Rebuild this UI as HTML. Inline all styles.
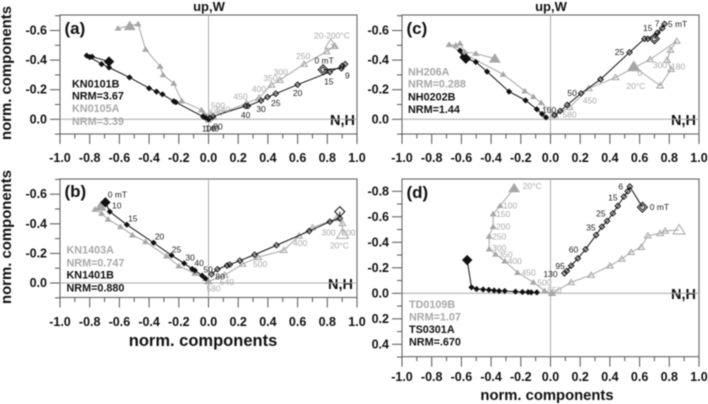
<!DOCTYPE html>
<html>
<head>
<meta charset="utf-8">
<style>
html,body{margin:0;padding:0;background:#fff;}
svg{display:block;font-family:"Liberation Sans",sans-serif;filter:blur(0.4px);}
text{font-family:"Liberation Sans",sans-serif;}
</style>
</head>
<body>
<svg id="chart" width="708" height="404" viewBox="0 0 708 404" xmlns="http://www.w3.org/2000/svg">
  <rect width="708" height="404" fill="#fff"/>
  <g font-weight="bold" fill="#111">
    <text transform="translate(11,73) rotate(-90)" text-anchor="middle" font-size="14.9">norm. components</text>
    <text transform="translate(11,237) rotate(-90)" text-anchor="middle" font-size="14.9">norm. components</text>
    <text x="203" y="346" text-anchor="middle" font-size="16.5">norm. components</text>
    <text x="547" y="400" text-anchor="middle" font-size="14.8">norm. components</text>
    <text x="209" y="11" text-anchor="middle" font-size="13">up,W</text>
    <text x="551" y="11" text-anchor="middle" font-size="13">up,W</text>
    <text x="355" y="125" text-anchor="end" font-size="14.5">N,H</text>
    <text x="353" y="289" text-anchor="end" font-size="14.5">N,H</text>
    <text x="696" y="125" text-anchor="end" font-size="14.5">N,H</text>
    <text x="696" y="299" text-anchor="end" font-size="14.5">N,H</text>
    <text x="64.5" y="34" font-size="17">(a)</text>
    <text x="64.5" y="197" font-size="17">(b)</text>
    <text x="406.5" y="34" font-size="17">(c)</text>
    <text x="406.5" y="198" font-size="17">(d)</text>
  </g>
  <g font-weight="bold" font-size="10.8" dominant-baseline="central">
    <text x="72" y="84.5" fill="#111">KN0101B</text>
    <text x="72" y="96.5" fill="#111">NRM=3.67</text>
    <text x="72" y="109" fill="#a8a8a8">KN0105A</text>
    <text x="72" y="122" fill="#a8a8a8">NRM=3.39</text>
    <text x="66.5" y="250.7" fill="#a8a8a8">KN1403A</text>
    <text x="66.5" y="263.3" fill="#a8a8a8">NRM=0.747</text>
    <text x="66.5" y="275.5" fill="#111">KN1401B</text>
    <text x="66.5" y="288.3" fill="#111">NRM=0.880</text>
    <text x="408" y="72.7" fill="#a8a8a8">NH206A</text>
    <text x="408" y="84.7" fill="#a8a8a8">NRM=0.288</text>
    <text x="408" y="97.3" fill="#111">NH0202B</text>
    <text x="408" y="110" fill="#111">NRM=1.44</text>
    <text x="409" y="305" fill="#a8a8a8">TD0109B</text>
    <text x="409" y="317.7" fill="#a8a8a8">NRM=1.07</text>
    <text x="409" y="330" fill="#111">TS0301A</text>
    <text x="409" y="342.7" fill="#111">NRM=.670</text>
  </g>
</svg>
<script>
// Axis tick values and labels
const xMajorTicks = [-1.0,-0.8,-0.6,-0.4,-0.2,0.0,0.2,0.4,0.6,0.8,1.0];
const xMinorTicks = [-0.9,-0.7,-0.5,-0.3,-0.1,0.1,0.3,0.5,0.7,0.9];
const yMajorTicksShort = [-0.6,-0.4,-0.2,0.0];
const yMinorTicksShort = [-0.7,-0.5,-0.3,-0.1,0.1];
const yMajorTicksTall = [-0.8,-0.6,-0.4,-0.2,0.0,0.2,0.4];
const yMinorTicksTall = [-0.7,-0.5,-0.3,-0.1,0.1,0.3,0.5];

// Panel (a)
const aBlackSolidX = [-0.67,-0.784,-0.82,-0.80,-0.72,-0.67,-0.532,-0.40,-0.35,-0.31,-0.234,-0.22,-0.036,-0.02,0];
const aBlackSolidY = [-0.39,-0.423,-0.43,-0.42,-0.373,-0.35,-0.283,-0.21,-0.187,-0.169,-0.122,-0.115,-0.018,-0.01,0];
const aBlackOpenX = [0.772,0.895,0.92,0.90,0.817,0.60,0.453,0.397,0.354,0.265,0.25,0.03,0.01];
const aBlackOpenY = [-0.335,-0.344,-0.373,-0.36,-0.32,-0.234,-0.173,-0.15,-0.126,-0.09,-0.09,-0.02,-0.01];
const aGraySolidX = [-0.53,-0.609,-0.474,-0.424,-0.326,-0.306,-0.234,-0.18,-0.047,-0.03,-0.01,0.01,0];
const aGraySolidY = [-0.63,-0.615,-0.644,-0.473,-0.358,-0.30,-0.243,-0.124,-0.063,-0.04,-0.02,-0.01,0.005];
const aGrayOpenX = [0.824,0.85,0.795,0.644,0.48,0.424,0.34,0.256,0.03,0.02,0.01];
const aGrayOpenY = [-0.507,-0.495,-0.457,-0.373,-0.265,-0.232,-0.144,-0.108,-0.02,-0.03,-0.01];

// Panel (b)
const bBlackSolidX = [-0.694,-0.665,-0.55,-0.37,-0.249,-0.164,-0.11,-0.092,-0.043,-0.02];
const bBlackSolidY = [-0.545,-0.482,-0.394,-0.272,-0.187,-0.133,-0.095,-0.085,-0.05,-0.03];
const bBlackOpenX = [0.884,0.884,0.817,0.678,0.458,0.31,0.211,0.143,0.125,0.06,0.02];
const bBlackOpenY = [-0.482,-0.437,-0.414,-0.351,-0.255,-0.191,-0.151,-0.124,-0.118,-0.093,-0.059];
const bGraySolidX = [-0.727,-0.765,-0.72,-0.676,-0.593,-0.512,-0.424,-0.283,-0.2,-0.092,-0.02,0];
const bGraySolidY = [-0.516,-0.498,-0.47,-0.43,-0.38,-0.324,-0.279,-0.182,-0.115,-0.065,-0.03,-0.013];
const bGrayOpenX = [0.902,0.902,0.862,0.70,0.61,0.507,0.334,0.229,0.11,0.0];
const bGrayOpenY = [-0.329,-0.403,-0.437,-0.374,-0.318,-0.221,-0.174,-0.128,-0.054,-0.01];

// Panel (c)
const cBlackSolidX = [-0.57,-0.609,-0.593,-0.503,-0.427,-0.279,-0.168,-0.092,-0.057,-0.03];
const cBlackSolidY = [-0.41,-0.464,-0.42,-0.387,-0.322,-0.187,-0.128,-0.068,-0.036,-0.013];
const cBlackOpenX = [0.70,0.768,0.752,0.72,0.655,0.633,0.532,0.337,0.206,0.112,0.065,0.027];
const cBlackOpenY = [-0.544,-0.644,-0.615,-0.585,-0.544,-0.544,-0.452,-0.27,-0.175,-0.097,-0.056,-0.029];
const cGraySolidX = [-0.375,-0.503,-0.577,-0.609,-0.638,-0.683,-0.577,-0.319,-0.173,-0.115,-0.063,0.027];
const cGraySolidY = [-0.41,-0.445,-0.455,-0.513,-0.50,-0.505,-0.44,-0.304,-0.191,-0.153,-0.112,-0.029];
const cGrayOpenX = [0.561,0.738,0.812,0.785,0.808,0.85,0.671,0.438,0.258,0.128,0.027];
const cGrayOpenY = [-0.355,-0.227,-0.338,-0.40,-0.468,-0.529,-0.405,-0.283,-0.209,-0.081,-0.029];

// Panel (d)
const dBlackSolidX = [-0.561,-0.532,-0.498,-0.454,-0.415,-0.38,-0.346,-0.308,-0.236,-0.189,-0.151,-0.13,-0.092];
const dBlackSolidY = [-0.261,-0.047,-0.034,-0.03,-0.027,-0.022,-0.018,-0.018,-0.013,-0.01,-0.009,-0.007,-0.007];
const dBlackOpenX = [0.619,0.534,0.52,0.494,0.453,0.42,0.381,0.346,0.307,0.236,0.184,0.139,0.11,0.094];
const dBlackOpenY = [-0.675,-0.837,-0.80,-0.758,-0.685,-0.627,-0.567,-0.522,-0.457,-0.345,-0.274,-0.216,-0.175,-0.157];
const dGraySolidX = [-0.245,-0.339,-0.386,-0.386,-0.413,-0.413,-0.37,-0.308,-0.222,-0.115,-0.04,0.01];
const dGraySolidY = [-0.824,-0.687,-0.622,-0.522,-0.447,-0.347,-0.306,-0.253,-0.162,-0.086,-0.02,0];
const dGrayOpenX = [0.866,0.772,0.738,0.655,0.61,0.543,0.48,0.40,0.273,0.139,0.01];
const dGrayOpenY = [-0.497,-0.489,-0.47,-0.452,-0.361,-0.322,-0.269,-0.216,-0.143,-0.086,0];

// Printed step labels for each series
const aBlackOpenLabels = ['0 mT','9','15','20','25','30','40','140','100','80'];
const aBlackOpenLabelPoints = [0,1,4,5,6,8,10,11,11,11];
const aGrayOpenLabels = ['20-200°C','250','300','350','400','450','500','540','580'];
const aGrayOpenLabelPoints = [0,3,4,5,6,7,8,8,8];
const bBlackSolidLabels = ['0 mT','10','15','20','25','30','40','50','80'];
const bBlackSolidLabelPoints = [0,1,2,3,4,5,6,8,8];
const bGrayOpenLabels = ['20°C','300','200','400','500','540','580'];
const bGrayOpenLabelPoints = [0,1,1,4,6,8,9];
const cBlackOpenLabels = ['5 mT','7','15','25','50','100'];
const cBlackOpenLabelPoints = [1,2,4,6,8,10];
const cGrayOpenLabels = ['0','20°C','300','180','450','580'];
const cGrayOpenLabelPoints = [0,0,3,2,8,9];
const dBlackOpenLabels = ['0 mT','6','15','25','35','60','95','130'];
const dBlackOpenLabelPoints = [0,1,3,5,7,9,11,13];
const dGraySolidLabels = ['20°C','100','150','200','250','300','350','400','450','500','550'];
const dGraySolidLabelPoints = [0,1,2,3,4,5,6,7,8,9,10];

const svg = document.getElementById('chart');
const NS = 'http://www.w3.org/2000/svg';
const BLACK = '#111';
const GRAY = '#a6a6a6';

function make(tag, attrs) {
  const node = document.createElementNS(NS, tag);
  for (const k in attrs) node.setAttribute(k, attrs[k]);
  return node;
}

const panelA = {left:60, right:357, top:15, bottom:134, y0:119.3, yScale:148, major:yMajorTicksShort, minor:yMinorTicksShort, doubleBox:true, fillOpenStart:false, labelX:47, xLabelY:158};
const panelB = {left:60, right:357, top:179, bottom:297.5, y0:283, yScale:148, major:yMajorTicksShort, minor:yMinorTicksShort, doubleBox:false, fillOpenStart:false, labelX:47, xLabelY:322};
const panelC = {left:402, right:699, top:15, bottom:134, y0:119.3, yScale:148, major:yMajorTicksShort, minor:yMinorTicksShort, doubleBox:true, fillOpenStart:true, labelX:389, xLabelY:158};
const panelD = {left:402, right:699, top:179, bottom:356.7, y0:293.3, yScale:127.5, major:yMajorTicksTall, minor:yMinorTicksTall, doubleBox:true, fillOpenStart:false, labelX:389, xLabelY:377};

function sx(p, v) { return p.left + (v + 1) / 2 * (p.right - p.left); }
function sy(p, v) { return p.y0 + v * p.yScale; }

function drawAxes(p) {
  const frame = make('rect', {x:p.left, y:p.top, width:p.right-p.left, height:p.bottom-p.top, fill:'none', stroke:'#666', 'stroke-width':1.1});
  
  
  svg.appendChild(frame);

  const zeroH = make('line', {x1:p.left, x2:p.right, y1:sy(p,0), y2:sy(p,0), stroke:'#aaa', 'stroke-width':1});
  
  
  svg.appendChild(zeroH);

  const zeroV = make('line', {x1:sx(p,0), x2:sx(p,0), y1:p.top, y2:p.bottom, stroke:'#aaa', 'stroke-width':1});
  
  
  svg.appendChild(zeroV);

  xMajorTicks.forEach(function (v) {
    const t = make('line', {x1:sx(p,v), x2:sx(p,v), y1:p.bottom, y2:p.bottom+10, stroke:'#555', 'stroke-width':1});
    
    
    svg.appendChild(t);
    const l = make('text', {x:sx(p,v), y:p.xLabelY, 'text-anchor':'middle', 'dominant-baseline':'central', 'font-size':12.5, 'font-weight':'bold', fill:'#111'});
    l.textContent = v.toFixed(1);
    
    
    svg.appendChild(l);
  });
  xMinorTicks.forEach(function (v) {
    const t = make('line', {x1:sx(p,v), x2:sx(p,v), y1:p.bottom, y2:p.bottom+4.5, stroke:'#555', 'stroke-width':1});
    
    
    svg.appendChild(t);
  });
  p.major.forEach(function (v) {
    const t = make('line', {x1:p.left-10, x2:p.left, y1:sy(p,v), y2:sy(p,v), stroke:'#555', 'stroke-width':1});
    
    
    svg.appendChild(t);
    const l = make('text', {x:p.labelX, y:sy(p,v), 'text-anchor':'end', 'dominant-baseline':'central', 'font-size':12.5, 'font-weight':'bold', fill:'#111'});
    l.textContent = v.toFixed(1);
    
    
    svg.appendChild(l);
  });
  p.minor.forEach(function (v) {
    const t = make('line', {x1:p.left-5, x2:p.left, y1:sy(p,v), y2:sy(p,v), stroke:'#555', 'stroke-width':1});
    
    
    svg.appendChild(t);
  });
}

function diamondPath(x, y, r) {
  return 'M' + x + ' ' + (y-r) + 'L' + (x+r) + ' ' + y + 'L' + x + ' ' + (y+r) + 'L' + (x-r) + ' ' + y + 'Z';
}
function trianglePath(x, y, r) {
  return 'M' + x + ' ' + (y-r) + 'L' + (x+r*1.1) + ' ' + (y+r*0.75) + 'L' + (x-r*1.1) + ' ' + (y+r*0.75) + 'Z';
}

function drawSeries(p, xs, ys, color, shape, solid) {
  const pts = xs.map(function (v, i) { return sx(p, v) + ',' + sy(p, ys[i]); }).join(' ');
  const line = make('polyline', {points:pts, fill:'none', stroke:color, 'stroke-width':1});
  
  
  svg.appendChild(line);
  xs.forEach(function (v, i) {
    const x = sx(p, v), y = sy(p, ys[i]);
    const first = i === 0;
    let r;
    if (shape === 'diamond') r = first ? (solid ? 5.2 : 5) : (solid ? 3.1 : 2.7);
    else r = first ? 5.4 : (solid ? 3.2 : 3);
    const d = shape === 'diamond' ? diamondPath(x, y, r) : trianglePath(x, y, r);
    const filled = solid || (first && shape === 'triangle' && p.fillOpenStart);
    const mark = make('path', {d:d, fill:filled ? color : 'none', stroke:solid ? 'none' : color, 'stroke-width':1});
    
    
    svg.appendChild(mark);
    if (first && !solid && shape === 'diamond' && p.doubleBox) {
      const inner = make('path', {d:diamondPath(x, y, 2.8), fill:'none', stroke:color, 'stroke-width':0.9});
      
      
      svg.appendChild(inner);
    }
    if (!first && !solid && shape === 'diamond') {
      const inner = make('path', {d:diamondPath(x, y, 1.1), fill:'#777'});
      
      
      svg.appendChild(inner);
    }
  });
}

function drawLabels(p, xs, ys, texts, points, offsets, color) {
  texts.forEach(function (txt, i) {
    const k = points[i];
    const l = make('text', {x:sx(p, xs[k]) + offsets[i][0], y:sy(p, ys[k]) + offsets[i][1], 'text-anchor':'middle', 'dominant-baseline':'central', 'font-size':8.5, fill:color});
    l.textContent = txt;
    
    
    svg.appendChild(l);
  });
}

[panelA, panelB, panelC, panelD].forEach(drawAxes);

drawSeries(panelA, aGraySolidX, aGraySolidY, GRAY, 'triangle', true);
drawSeries(panelA, aGrayOpenX, aGrayOpenY, GRAY, 'triangle', false);
drawSeries(panelA, aBlackSolidX, aBlackSolidY, BLACK, 'diamond', true);
drawSeries(panelA, aBlackOpenX, aBlackOpenY, BLACK, 'diamond', false);
drawLabels(panelA, aGrayOpenX, aGrayOpenY, aGrayOpenLabels, aGrayOpenLabelPoints, [[1,-9],[-1,-8],[1,-8],[-1,-7],[0,-9],[-6,-7],[5,-11],[10,-7],[3,-4]], '#aaa');
drawLabels(panelA, aBlackOpenX, aBlackOpenY, aBlackOpenLabels, aBlackOpenLabelPoints, [[1,-9],[6,7],[-1,9.5],[0,8.5],[0,9.5],[0,8.5],[0,9],[-1,12],[-4,12],[5,10]], '#222');

drawSeries(panelB, bGraySolidX, bGraySolidY, GRAY, 'triangle', true);
drawSeries(panelB, bGrayOpenX, bGrayOpenY, GRAY, 'triangle', false);
drawSeries(panelB, bBlackSolidX, bBlackSolidY, BLACK, 'diamond', true);
drawSeries(panelB, bBlackOpenX, bBlackOpenY, BLACK, 'diamond', false);
drawLabels(panelB, bBlackSolidX, bBlackSolidY, bBlackSolidLabels, bBlackSolidLabelPoints, [[12,-8],[7,-6],[6,-6],[6,-6],[5,-6],[6,-6],[7,-6],[6,-6],[18,1]], '#222');
drawLabels(panelB, bGrayOpenX, bGrayOpenY, bGrayOpenLabels, bGrayOpenLabelPoints, [[-3,11],[-14,9],[6,9],[1,7],[2,7],[2,7],[5,7]], '#aaa');

drawSeries(panelC, cGraySolidX, cGraySolidY, GRAY, 'triangle', true);
drawSeries(panelC, cGrayOpenX, cGrayOpenY, GRAY, 'triangle', false);
drawSeries(panelC, cBlackSolidX, cBlackSolidY, BLACK, 'diamond', true);
drawSeries(panelC, cBlackOpenX, cBlackOpenY, BLACK, 'diamond', false);
drawLabels(panelC, cBlackOpenX, cBlackOpenY, cBlackOpenLabels, cBlackOpenLabelPoints, [[13,0],[-5,-5],[0,-10.7],[-10,-0.6],[-9,-0.6],[-11,-1]], '#222');
drawLabels(panelC, cGrayOpenX, cGrayOpenY, cGrayOpenLabels, cGrayOpenLabelPoints, [[6,6],[2,19],[-7,5],[7,-3],[1,12],[0,7]], '#aaa');

drawSeries(panelD, dGraySolidX, dGraySolidY, GRAY, 'triangle', true);
drawSeries(panelD, dGrayOpenX, dGrayOpenY, GRAY, 'triangle', false);
drawSeries(panelD, dBlackSolidX, dBlackSolidY, BLACK, 'diamond', true);
drawSeries(panelD, dBlackOpenX, dBlackOpenY, BLACK, 'diamond', false);
drawLabels(panelD, dBlackOpenX, dBlackOpenY, dBlackOpenLabels, dBlackOpenLabelPoints, [[17,0],[-9,0],[-11,0.6],[-12,0],[-11,0.6],[-12,0],[-11,0],[-14,0.7]], '#222');
drawLabels(panelD, dGraySolidX, dGraySolidY, dGraySolidLabels, dGraySolidLabelPoints, [[18,-2],[10,0],[10,0],[10,0],[10,0],[10,-1],[10,0],[10,0],[11,0],[11,0],[10,-1]], '#aaa');
</script>
</body>
</html>
